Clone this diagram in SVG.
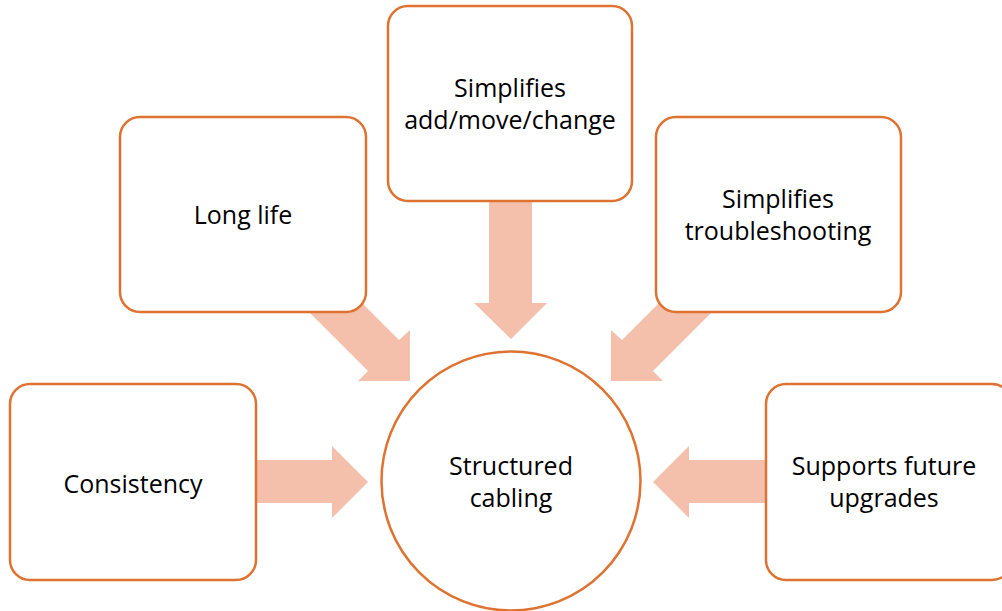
<svg xmlns="http://www.w3.org/2000/svg" width="1002" height="611" viewBox="0 0 1002 611">
<style>
.box{fill:#FFFFFF;stroke:#DE7331;stroke-width:2.5}
.arrow{fill:#F4C0AB;stroke:none}
.lbl{font-family:"Open Sans","Noto Sans","Liberation Sans",sans-serif;font-size:25px;fill:#000000;text-anchor:middle}
</style>
<rect width="1002" height="611" fill="#FFFFFF"/>
<g id="connectors">
<polygon class="arrow" points="200,460 332,460 332,446 368,482 332,518 332,503 200,503"/>
<polygon class="arrow" points="820,460 689,460 689,446 653,482 689,518 689,503 820,503"/>
<polygon class="arrow" points="489,150 532,150 532,303 547,303 511,339 474,303 489,303"/>
<polygon class="arrow" points="330,271 399,340 410,330 410,381 358,381 368,371 299,302"/>
<polygon class="arrow" points="691,271 622,340 611,330 611,381 663,381 653,371 722,302"/>
</g>
<g id="node-consistency">
<rect class="box" x="10" y="384" width="246" height="196" rx="20"/>
<text class="lbl" x="133" y="493">Consistency</text>
</g>
<g id="node-longlife">
<rect class="box" x="120" y="117" width="246" height="195" rx="20"/>
<text class="lbl" x="243" y="224">Long life</text>
</g>
<g id="node-addmove">
<rect class="box" x="388" y="6" width="244" height="195" rx="20"/>
<text class="lbl" x="510" y="97">Simplifies</text>
<text class="lbl" x="510" y="129">add/move/change</text>
</g>
<g id="node-troubleshooting">
<rect class="box" x="656" y="117" width="245" height="195" rx="20"/>
<text class="lbl" x="778" y="208">Simplifies</text>
<text class="lbl" x="778" y="240">troubleshooting</text>
</g>
<g id="node-upgrades">
<rect class="box" x="766" y="384" width="246" height="196" rx="20"/>
<text class="lbl" x="884" y="475">Supports future</text>
<text class="lbl" x="884" y="507">upgrades</text>
</g>
<g id="node-center">
<circle class="box" cx="511" cy="481" r="129.5"/>
<text class="lbl" x="511" y="475">Structured</text>
<text class="lbl" x="511" y="507">cabling</text>
</g>
</svg>
